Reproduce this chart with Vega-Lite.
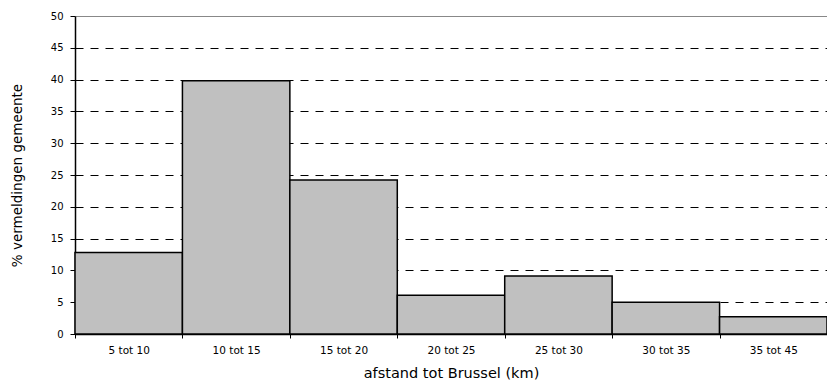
{
  "$schema": "https://vega.github.io/schema/vega-lite/v6.json",
  "autosize": "none",
  "padding": {"left": 75, "top": 16, "right": 0, "bottom": 49},
  "width": 752,
  "height": 318,
  "background": "white",
  "config": {
    "view": {"stroke": null},
    "font": "DejaVu Sans"
  },
  "data": {
    "values": [
      {"afstand": "5 tot 10", "pct": 12.8},
      {"afstand": "10 tot 15", "pct": 39.8},
      {"afstand": "15 tot 20", "pct": 24.2},
      {"afstand": "20 tot 25", "pct": 6.1},
      {"afstand": "25 tot 30", "pct": 9.1},
      {"afstand": "30 tot 35", "pct": 5.0},
      {"afstand": "35 tot 45", "pct": 2.7}
    ]
  },
  "mark": {"type": "bar", "fill": "#c0c0c0", "stroke": "#000000", "strokeWidth": 1.5},
  "encoding": {
    "x": {
      "field": "afstand",
      "type": "ordinal",
      "sort": null,
      "scale": {"paddingInner": 0, "paddingOuter": 0},
      "axis": {
        "title": "afstand tot Brussel (km)",
        "labelAngle": 0,
        "labelFont": "DejaVu Sans",
        "labelFontSize": 10.5,
        "labelColor": "#000000",
        "labelPadding": 7,
        "tickBand": "extent",
        "tickSize": 4,
        "tickColor": "#000000",
        "domainColor": "#000000",
        "domainWidth": 1.5,
        "titleFont": "DejaVu Sans",
        "titleFontSize": 14.5,
        "titleFontWeight": "normal",
        "titleColor": "#000000",
        "titlePadding": 11
      }
    },
    "y": {
      "field": "pct",
      "type": "quantitative",
      "scale": {"domain": [0, 50], "nice": false},
      "axis": {
        "title": "% vermeldingen gemeente",
        "values": [0, 5, 10, 15, 20, 25, 30, 35, 40, 45, 50],
        "labelFont": "DejaVu Sans",
        "labelFontSize": 10,
        "labelColor": "#000000",
        "labelPadding": 7,
        "tickSize": 5,
        "tickColor": "#000000",
        "domainColor": "#000000",
        "domainWidth": 1.5,
        "grid": true,
        "gridColor": {"condition": {"test": "datum.value == 50", "value": "#888888"}, "value": "#000000"},
        "gridDash": {"condition": {"test": "datum.value == 50", "value": []}, "value": [8, 7]},
        "gridWidth": 1,
        "titleFont": "DejaVu Sans",
        "titleFontSize": 13.5,
        "titleFontWeight": "normal",
        "titleColor": "#000000",
        "titlePadding": 26
      }
    }
  }
}
